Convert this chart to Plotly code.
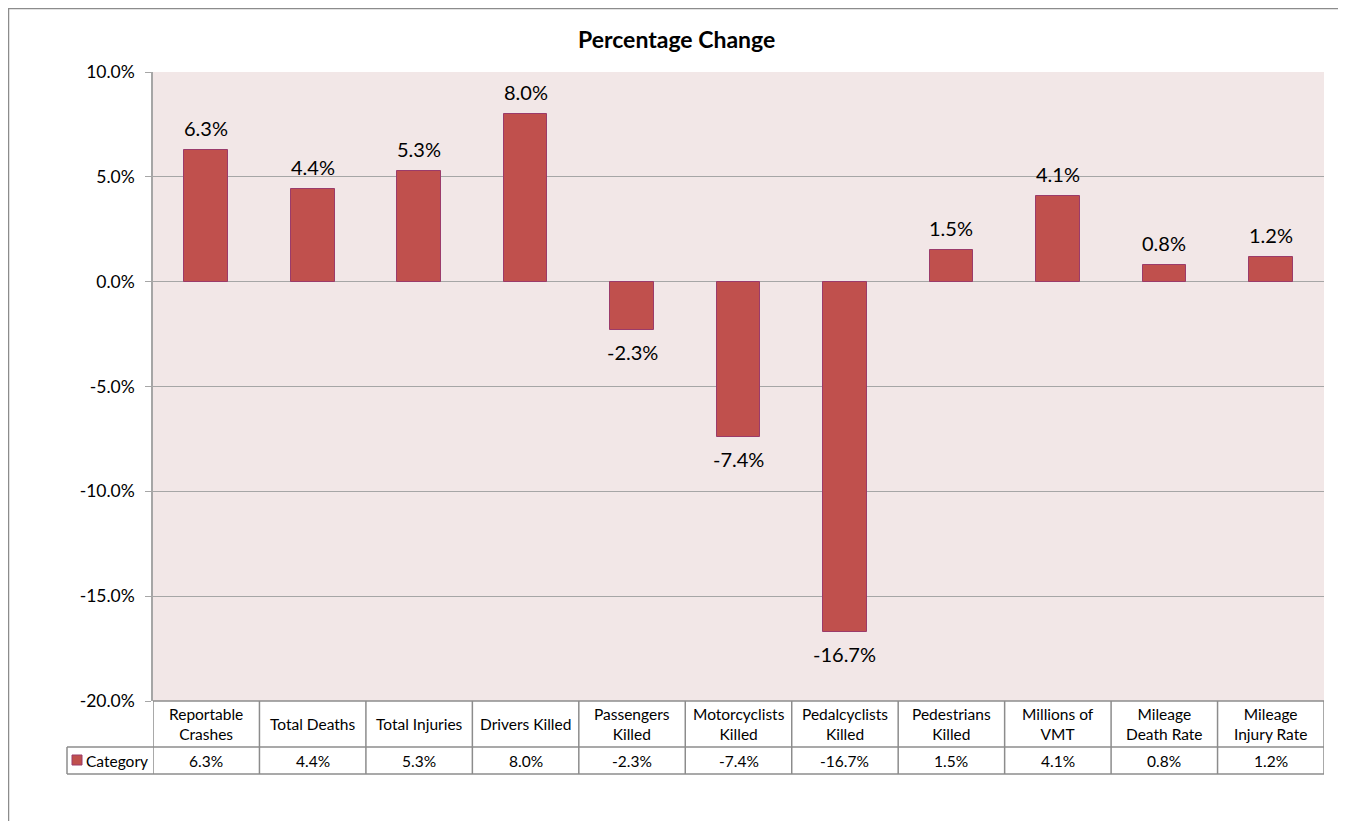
import plotly.graph_objects as go

categories = ["Reportable<br>Crashes", "Total Deaths", "Total Injuries", "Drivers Killed",
              "Passengers<br>Killed", "Motorcyclists<br>Killed", "Pedalcyclists<br>Killed",
              "Pedestrians<br>Killed", "Millions of<br>VMT", "Mileage<br>Death Rate",
              "Mileage<br>Injury Rate"]
values = [6.3, 4.4, 5.3, 8.0, -2.3, -7.4, -16.7, 1.5, 4.1, 0.8, 1.2]
series_name = "Category"
y_ticks = [10, 5, 0, -5, -10, -15, -20]
y_tick_labels = ["10.0%", "5.0%", "0.0%", "-5.0%", "-10.0%", "-15.0%", "-20.0%"]
title = "Percentage Change"

OFF = 8  # page body margin
W, H = 1346 - OFF, 821 - OFF
L, R, T, B = 153 - OFF, 1324 - OFF, 72 - OFF, 701 - OFF
FONT = "Lato"
BAR = "#C0504D"
BAR_LINE = "#9B3B6A"
GRID = "#A6A6A6"
TABLE = "#8C8C8C"

def px(x):
    return (x - OFF - L) / (R - L)

def py(y):
    return (B - (y - OFF)) / (B - T)

n = len(categories)
idx = list(range(n))

fig = go.Figure()
fig.add_trace(go.Bar(
    x=idx, y=values, width=0.41,
    marker=dict(color=BAR, line=dict(color=BAR_LINE, width=1)),
    showlegend=False, hoverinfo="skip",
))

shapes = []
shapes.append(dict(type="rect", xref="paper", yref="paper",
                   x0=px(8.5), x1=px(1345), y0=py(835), y1=py(8.5),
                   line=dict(color="#8C8C8C", width=1.5), layer="below"))
row0, row1, row2 = 701, 747, 774
shapes.append(dict(type="line", xref="paper", yref="paper", x0=px(153), x1=px(1324),
                   y0=py(row0), y1=py(row0), line=dict(color=TABLE, width=1.5)))
for yy in (row1, row2):
    shapes.append(dict(type="line", xref="paper", yref="paper", x0=px(67), x1=px(1324),
                       y0=py(yy), y1=py(yy), line=dict(color=TABLE, width=1.5)))
shapes.append(dict(type="line", xref="paper", yref="paper", x0=px(67), x1=px(67),
                   y0=py(row1), y1=py(row2), line=dict(color=TABLE, width=1.5)))
for i in range(n + 1):
    shapes.append(dict(type="line", xref="x", yref="paper", x0=i - 0.5, x1=i - 0.5,
                       y0=py(row2), y1=py(row0), line=dict(color=TABLE, width=1.5)))
shapes.append(dict(type="rect", xref="paper", yref="paper", x0=px(72), x1=px(82),
                   y0=py(765), y1=py(755), fillcolor=BAR,
                   line=dict(color=BAR_LINE, width=1)))

annotations = [dict(text=f"<b>{title}</b>", xref="paper", yref="paper",
                    x=px(676.5), y=py(39), showarrow=False,
                    font=dict(family=FONT, size=23, color="#000"),
                    xanchor="center", yanchor="middle")]
for i, v in enumerate(values):
    annotations.append(dict(text=f"{v:.1f}%", xref="x", yref="y", x=i, y=v,
                            showarrow=False, font=dict(family=FONT, size=20, color="#000"),
                            xanchor="center", yanchor="bottom" if v >= 0 else "top",
                            yshift=8 if v >= 0 else -8))
for i, (c, v) in enumerate(zip(categories, values)):
    annotations.append(dict(text=c, xref="x", yref="paper", x=i, y=py((row0 + row1) / 2),
                            showarrow=False, font=dict(family=FONT, size=15.5, color="#000"),
                            xanchor="center", yanchor="middle"))
    annotations.append(dict(text=f"{v:.1f}%", xref="x", yref="paper", x=i,
                            y=py((row1 + row2) / 2), showarrow=False,
                            font=dict(family=FONT, size=15.5, color="#000"),
                            xanchor="center", yanchor="middle"))
annotations.append(dict(text=series_name, xref="paper", yref="paper", x=px(84),
                        y=py((row1 + row2) / 2), showarrow=False,
                        font=dict(family=FONT, size=15.5, color="#000"),
                        xanchor="left", yanchor="middle"))

fig.update_layout(
    width=W, height=H,
    margin=dict(l=L, r=W - R, t=T, b=H - B, pad=0),
    paper_bgcolor="white", plot_bgcolor="#F2E7E7",
    font=dict(family=FONT, color="#000"),
    shapes=shapes, annotations=annotations,
    bargap=0,
    xaxis=dict(range=[-0.5, n - 0.5], showticklabels=False, showgrid=False,
               zeroline=False, showline=False, fixedrange=True),
    yaxis=dict(range=[-20, 10], tickvals=y_ticks, ticktext=y_tick_labels,
               showgrid=True, gridcolor=GRID, gridwidth=1.2,
               zeroline=True, zerolinecolor=GRID, zerolinewidth=1.2,
               showline=True, linecolor=GRID, linewidth=1.5,
               ticks="outside", ticklen=6, tickcolor=GRID, ticklabelstandoff=7,
               tickfont=dict(family=FONT, size=17.5, color="#000"), fixedrange=True),
)

fig.write_html("out.html")
